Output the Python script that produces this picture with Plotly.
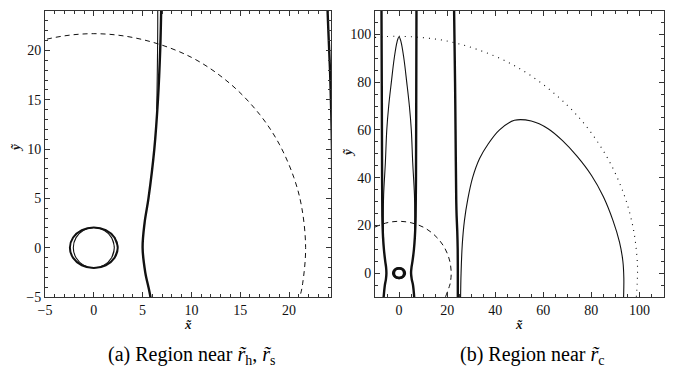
import plotly.graph_objects as go

# ---------------- data ----------------
# thick contour to the right of the origin (x ~ +5..7)
edge_y = [-10, -5, -2.5, 0, 2.5, 5, 10, 15, 20, 24, 40, 70, 110]
edge_right_x = [6.3, 5.8, 5.27, 5.0, 5.2, 5.6, 6.2, 6.57, 6.8, 6.9, 7.05, 7.15, 7.25]
# thick contour to the left of the origin (x ~ -5..-7)
edge_left_x = [-6.4, -5.9, -5.45, -5.25, -5.4, -5.75, -6.3, -6.65, -6.85, -6.95, -7.05, -7.15, -7.3]

# thick contour near x ~ 24
far_y = [-10, 0, 10, 18, 24, 30, 60, 80, 110]
far_x = [24.45, 24.45, 24.4, 24.2, 23.95, 23.8, 23.5, 23.3, 22.9]

# thin narrow loop reaching y ~ 99
spike_x = [-6.45, -6.55, -6.4, -5.7, -5.1, -4.3, -3.2, -2.0, -0.8, 0, 0.8, 2.0, 3.2, 4.3, 5.1, 5.7, 6.4, 6.55, 6.45]
spike_y = [14, 24, 33, 46, 60, 70, 80, 90, 97, 99, 97, 90, 80, 70, 60, 46, 33, 24, 14]

# thin lobe between x ~ 25 and x ~ 93
lobe_x = [25.6, 25.8, 26.3, 27.2, 28.6, 30.6, 33.5, 37, 41.8, 48, 55, 62, 68, 74, 80, 85, 89, 91.7, 93.1, 93.5, 93.4]
lobe_y = [-10, 0, 12, 22, 31, 40, 48, 54, 60, 64, 63.7, 60.5, 55.5, 49, 41, 32, 22, 13, 5, -2, -10]

# dashed arc (radius ~21.7)
dash_x = [-10, -5, 0, 5, 10, 14, 17, 19, 20.5, 21.3, 21.7, 21.4, 21.1, 19.3]
dash_y = [19.3, 21.1, 21.7, 21.1, 19.3, 16.6, 13.5, 10.5, 7.1, 4.1, 0, -3.6, -5, -10]

# dotted arc (radius ~99)
dot_x = [-10, 0, 20, 40, 55, 70, 80, 88, 94, 97.5, 99, 99.2, 98.7]
dot_y = [98.7, 99.2, 97.2, 90.8, 82.6, 70.3, 58.7, 45.8, 31.7, 18.3, 6.3, 0, -10]

# small closed curves around the origin
ring_thick_x = [2.12, 2.45, 2.12, 1.23, 0, -1.23, -2.12, -2.45, -2.12, -1.23, 0, 1.23, 2.12, 2.45, 2.12]
ring_thick_y = [-1.03, 0, 1.03, 1.78, 2.05, 1.78, 1.03, 0, -1.03, -1.78, -2.05, -1.78, -1.03, 0, 1.03]
ring_thin_x = [1.82, 2.1, 1.82, 1.05, 0, -1.05, -1.82, -2.1, -1.82, -1.05, 0, 1.05, 1.82, 2.1, 1.82]
ring_thin_y = [-1.02, 0, 1.02, 1.77, 2.04, 1.77, 1.02, 0, -1.02, -1.77, -2.04, -1.77, -1.02, 0, 1.02]

# axes
a_xrange = [-5, 24.3]
a_yrange = [-5, 24.05]
b_xrange = [-10, 110]
b_yrange = [-10, 110]

caption_a = "(a) Region near <i>r̃</i><sub>h</sub>, <i>r̃</i><sub>s</sub>"
caption_b = "(b) Region near <i>r̃</i><sub>c</sub>"

# ---------------- figure ----------------
fig = go.Figure()

THICK = 2.4
THIN = 1.1
BLACK = "#111111"


def add(x, y, xa, ya, width, dash="solid", shape="spline"):
    fig.add_trace(go.Scatter(
        x=x, y=y, xaxis=xa, yaxis=ya, mode="lines",
        line=dict(color=BLACK, width=width, dash=dash, shape=shape, smoothing=1.0),
        hoverinfo="skip", showlegend=False))


for xa, ya, panel in [("x", "y", "a"), ("x2", "y2", "b")]:
    add(dash_x, dash_y, xa, ya, 1.0, dash="5px,4px")
    add(dot_x, dot_y, xa, ya, 1.1, dash="1px,5px")
    add(spike_x, spike_y, xa, ya, THIN)
    add(lobe_x, lobe_y, xa, ya, THIN)
    add(edge_right_x, edge_y, xa, ya, THICK)
    add(edge_left_x, edge_y, xa, ya, THICK)
    add(far_x, far_y, xa, ya, THICK)
    if panel == "a":
        add(ring_thin_x, ring_thin_y, xa, ya, THIN)
        add(ring_thick_x, ring_thick_y, xa, ya, 2.0)
    else:
        add(ring_thin_x, ring_thin_y, xa, ya, 2.4)
        add(ring_thick_x, ring_thick_y, xa, ya, 2.4)

# page body adds an 8px offset; work in window pixels
OFF = 8
W, H = 678 - OFF, 375 - OFF


def px(v):
    return (v - OFF) / W


def py(v):
    return 1 - (v - OFF) / H


SERIF = "Liberation Serif"
tickfont = dict(family=SERIF, size=14, color="#111")


def axis_style(rng, dtick, minor_dtick, domain, anchor):
    return dict(
        range=rng, domain=domain, anchor=anchor,
        tick0=0, dtick=dtick, ticks="inside", ticklen=5, tickwidth=1,
        tickcolor="#333", mirror="allticks", showline=True, linecolor="#333",
        linewidth=1, showgrid=False, zeroline=False, tickfont=tickfont,
        automargin=False, fixedrange=True,
        minor=dict(dtick=minor_dtick, tick0=0, ticks="inside", ticklen=3,
                   tickwidth=1, tickcolor="#333", showgrid=False),
    )


ydom = [py(297), py(10.5)]
fig.update_layout(
    width=W, height=H, template="none",
    font=dict(family=SERIF, size=14, color="#111"),
    paper_bgcolor="white", plot_bgcolor="white",
    margin=dict(l=0, r=0, t=0, b=0),
    xaxis=axis_style(a_xrange, 5, 1, [px(45), px(331)], "y"),
    yaxis=axis_style(a_yrange, 5, 1, ydom, "x"),
    xaxis2=axis_style(b_xrange, 20, 5, [px(375), px(663.5)], "y2"),
    yaxis2=axis_style(b_yrange, 20, 5, ydom, "x2"),
    showlegend=False,
)

lab = dict(family=SERIF, size=13, color="#111")
cap = dict(family=SERIF, size=20, color="#000")
ann = [
    dict(x=px(188), y=py(324), text="<b><i>x̃</i></b>", font=lab),
    dict(x=px(519), y=py(324), text="<b><i>x̃</i></b>", font=lab),
    dict(x=px(15), y=py(148), text="<b><i>ỹ</i></b>", font=lab, textangle=-90),
    dict(x=px(347), y=py(152), text="<b><i>ỹ</i></b>", font=lab, textangle=-90),
    dict(x=px(191), y=py(355), text=caption_a, font=cap),
    dict(x=px(532), y=py(355), text=caption_b, font=cap),
]
for a in ann:
    a.update(xref="paper", yref="paper", showarrow=False, xanchor="center", yanchor="middle")
fig.update_layout(annotations=ann)

fig.write_html("out.html")
